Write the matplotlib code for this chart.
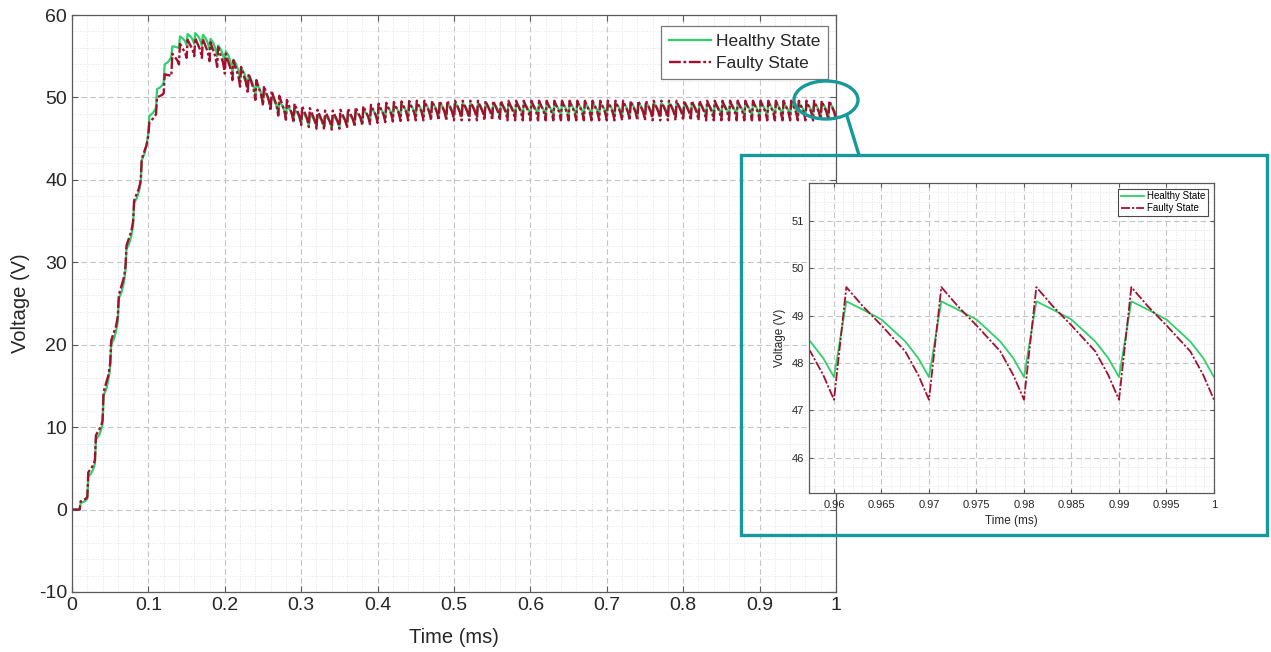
import numpy as np
import matplotlib
matplotlib.use('Agg')
import matplotlib.pyplot as plt
from matplotlib.patches import Ellipse, Rectangle
from matplotlib.lines import Line2D
from matplotlib.ticker import MultipleLocator, FuncFormatter

plt.rcParams['font.family'] = ['Liberation Sans', 'DejaVu Sans']
plt.rcParams['axes.unicode_minus'] = False

# one switching period = 0.01 ms, 100 periods over 0..1 ms
period = 0.01
rise_time = 0.0013
n_cycles = 100

# voltage at the start of each period (valley), 101 values (last one at t = 1 ms)
healthy_valley = [
    0, 0, 1.3, 5.6, 10.4, 17.4, 23.0, 29.0, 34.6, 39.8,
    45.8, 48.8, 51.8, 55.0, 56.0, 56.4, 56.5, 56.3, 55.8, 55.0,
    54.2, 53.2, 52.2, 51.2, 50.3, 49.4, 48.7, 48.1, 47.6, 47.1,
    46.8, 46.55, 46.4, 46.35, 46.35, 46.45, 46.6, 46.8, 47.0, 47.15,
    47.3, 47.45, 47.55, 47.6, 47.65, 47.7] + [47.7] * 55
# voltage at the top of each period's rise, 100 values
healthy_peak = [
    0, 0.8, 4.0, 8.5, 13.8, 20.0, 25.6, 31.6, 37.2, 42.4,
    47.8, 51.0, 54.0, 56.2, 57.4, 57.7, 57.8, 57.6, 57.1, 56.3,
    55.6, 54.6, 53.6, 52.6, 51.7, 50.8, 50.1, 49.5, 49.0, 48.5,
    48.2, 47.95, 47.8, 47.75, 47.75, 47.85, 48.0, 48.2, 48.4, 48.65,
    48.8, 48.95, 49.05, 49.15, 49.2, 49.25] + [49.3] * 54

faulty_valley = [
    0, 0, 1.5, 6.0, 10.8, 17.8, 23.5, 29.5, 35.0, 40.0,
    45.5, 48.0, 50.5, 52.6, 54.0, 54.8, 55.0, 54.8, 54.4, 53.7,
    52.9, 52.1, 51.3, 50.5, 49.7, 49.0, 48.4, 47.8, 47.3, 46.95,
    46.65, 46.4, 46.2, 46.1, 46.1, 46.2, 46.3, 46.45, 46.6, 46.75,
    46.9, 47.0, 47.08, 47.15, 47.2, 47.22] + [47.22] * 55
faulty_peak = [
    0, 1.0, 4.5, 9.0, 14.2, 20.5, 26.0, 32.0, 37.5, 42.5,
    47.0, 50.0, 52.8, 55.3, 56.5, 57.0, 57.2, 57.1, 56.7, 56.1,
    55.3, 54.5, 53.7, 52.9, 52.1, 51.4, 50.8, 50.2, 49.7, 49.25,
    48.95, 48.7, 48.5, 48.4, 48.4, 48.5, 48.65, 48.8, 48.95, 49.1,
    49.25, 49.35, 49.45, 49.52, 49.57, 49.6] + [49.6] * 54

# shape of the fall from peak to next valley
decay_phase = [0.0, 0.2, 0.425, 0.713, 0.87, 1.0]
healthy_shape = [1.0, 0.89, 0.76, 0.47, 0.25, 0.0]
faulty_shape = [1.0, 0.83, 0.66, 0.43, 0.22, 0.0]

GREEN = '#2fd06a'
RED = '#a3102f'
TEAL = '#17999b'
TXT = '#262626'
DASHDOT = (0, (5, 1.1, 1.2, 1.1))


def build_wave(valley, peak, shape):
    t, v = [], []
    for k in range(n_cycles):
        t0 = k * period
        t += [t0, t0 + rise_time]
        v += [valley[k], peak[k]]
        for f, s in zip(decay_phase[1:-1], shape[1:-1]):
            t.append(t0 + rise_time + f * (period - rise_time))
            v.append(valley[k + 1] + s * (peak[k] - valley[k + 1]))
    t.append(n_cycles * period)
    v.append(valley[-1])
    return np.array(t), np.array(v)


t_h, v_h = build_wave(healthy_valley, healthy_peak, healthy_shape)
t_f, v_f = build_wave(faulty_valley, faulty_peak, faulty_shape)


def style_axes(ax, fs):
    for s in ax.spines.values():
        s.set_color('#5a5a5a')
        s.set_linewidth(0.9)
    ax.tick_params(which='major', direction='in', top=True, right=True,
                   length=4, width=0.8, color='#5a5a5a', labelsize=fs, labelcolor=TXT)
    ax.tick_params(which='minor', length=0)
    ax.grid(True, which='major', ls=(0, (5, 3)), color='#c4c4c4', lw=0.8)
    ax.grid(True, which='minor', ls=':', color='#e2e2e2', lw=0.7)
    ax.set_axisbelow(True)
    ax.xaxis.set_major_formatter(FuncFormatter(lambda x, p: f'{x:g}'))


fig = plt.figure(figsize=(12.71, 6.52), dpi=100)
W, H = 1271, 652

# main axes
ax = fig.add_axes([72 / W, 1 - 592 / H, 764 / W, 577 / H])
ax.plot(t_h, v_h, color=GREEN, lw=1.6, label='Healthy State')
ax.plot(t_f, v_f, color=RED, lw=1.7, ls=DASHDOT, label='Faulty State')
ax.set_xlim(0, 1)
ax.set_ylim(-10, 60)
ax.xaxis.set_major_locator(MultipleLocator(0.1))
ax.xaxis.set_minor_locator(MultipleLocator(0.02))
ax.yaxis.set_major_locator(MultipleLocator(10))
ax.yaxis.set_minor_locator(MultipleLocator(2))
style_axes(ax, 14)
ax.set_xlabel('Time (ms)', fontsize=14.5, color=TXT)
ax.set_ylabel('Voltage (V)', fontsize=14.5, color=TXT)
ax.xaxis.set_label_coords(0.5, -0.062)
ax.yaxis.set_label_coords(-0.055, 0.5)
leg = ax.legend(loc='upper right', bbox_to_anchor=(0.9895, 0.981), borderaxespad=0,
                fontsize=12.5, fancybox=False, framealpha=1, edgecolor='#7a7a7a',
                handlelength=2.4, borderpad=0.45, labelspacing=0.4, handletextpad=0.3)
leg.get_frame().set_linewidth(0.9)
for txt in leg.get_texts():
    txt.set_color(TXT)

# zoom box, circle and connector (figure coords)
fig.add_artist(Rectangle((741 / W, 1 - 535 / H), 526 / W, 380 / H, fill=False,
                         edgecolor=TEAL, lw=2.4, transform=fig.transFigure, zorder=5))
fig.add_artist(Ellipse((826 / W, 1 - 100 / H), 64 / W, 38 / H, fill=False,
                       edgecolor=TEAL, lw=2.4, transform=fig.transFigure, zorder=5))
fig.add_artist(Line2D([847 / W, 859 / W], [1 - 116 / H, 1 - 155 / H], color=TEAL,
                      lw=2.4, transform=fig.transFigure, zorder=5))

# inset axes
ax2 = fig.add_axes([809 / W, 1 - 493 / H, 405 / W, 310 / H], zorder=6)
ax2.set_facecolor('white')
ax2.plot(t_h, v_h, color=GREEN, lw=1.3, label='Healthy State')
ax2.plot(t_f, v_f, color=RED, lw=1.3, ls=DASHDOT, label='Faulty State')
ax2.set_xlim(0.95737, 1.0)
ax2.set_ylim(45.25, 51.8)
ax2.xaxis.set_major_locator(MultipleLocator(0.005))
ax2.xaxis.set_minor_locator(MultipleLocator(0.001))
ax2.yaxis.set_major_locator(MultipleLocator(1))
ax2.yaxis.set_minor_locator(MultipleLocator(0.2))
style_axes(ax2, 8)
ax2.tick_params(which='major', length=3)
ax2.tick_params(axis='x', pad=5)
ax2.set_xlabel('Time (ms)', fontsize=8.5, color=TXT)
ax2.set_ylabel('Voltage (V)', fontsize=8.5, color=TXT)
ax2.xaxis.set_label_coords(0.5, -0.071)
ax2.yaxis.set_label_coords(-0.056, 0.5)
leg2 = ax2.legend(loc='upper right', bbox_to_anchor=(0.985, 0.981), borderaxespad=0,
                  fontsize=7, fancybox=False, framealpha=1, edgecolor='#4a4a4a',
                  handlelength=2.4, borderpad=0.25, labelspacing=0.2, handletextpad=0.3)
leg2.get_frame().set_linewidth(0.8)

fig.savefig('out.png', dpi=100)
